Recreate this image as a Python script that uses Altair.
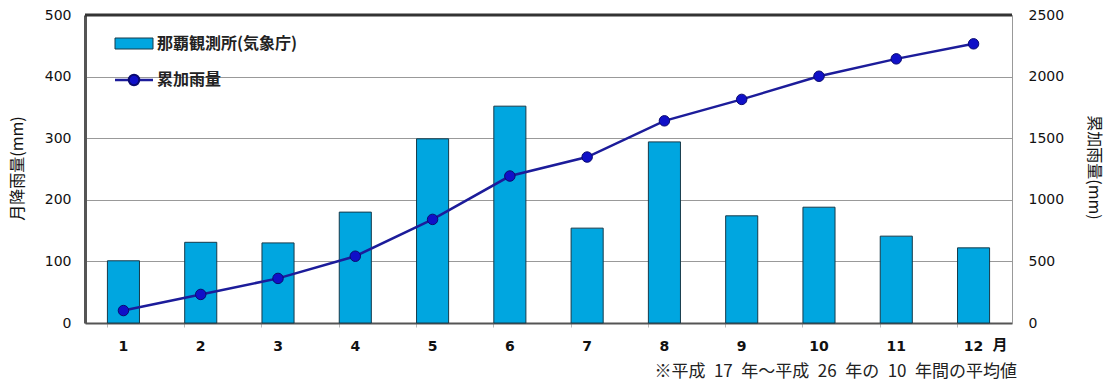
import altair as alt
import pandas as pd

months = [1, 2, 3, 4, 5, 6, 7, 8, 9, 10, 11, 12]
monthly_rain = [101, 131, 130, 180, 299, 352, 154, 294, 174, 188, 141, 122]
cumulative_rain = [101, 232, 362, 542, 841, 1193, 1347, 1641, 1815, 2003, 2144, 2266]
left_ticks = [0, 100, 200, 300, 400, 500]
right_ticks = [0, 500, 1000, 1500, 2000, 2500]
bar_label = "那覇観測所(気象庁)"
line_label = "累加雨量"
left_title = "月降雨量(mm)"
right_title = "累加雨量(mm)"
unit_label = "月"
footnote = "※平成\u200217\u2002年～平成\u200226\u2002年の\u200210\u2002年間の平均値"

df = pd.DataFrame({"month": months, "rain": monthly_rain, "cum": cumulative_rain})

FONT = "Noto Sans CJK JP"
NUMF = "DejaVu Sans"

xenc = alt.X("month:O", title=None,
             scale=alt.Scale(paddingInner=0.585, paddingOuter=0.29),
             axis=alt.Axis(labelAngle=0, labelFont=NUMF, labelFontSize=14, labelColor="#111",
                           labelFontWeight="bold", labelPadding=12, domainColor="#555",
                           domainWidth=2, tickColor="#bbb", tickSize=4, bandPosition=0,
                           grid=False))

left_scale = alt.Scale(domain=[0, 500], nice=False)
right_scale = alt.Scale(domain=[0, 2500], nice=False)

bars = alt.Chart(df).mark_bar(color="#00A6E0", stroke="#163a4a", strokeWidth=1).encode(
    x=xenc,
    y=alt.Y("rain:Q", scale=left_scale,
            axis=alt.Axis(values=left_ticks, format="d", title=left_title, titleFont=FONT,
                          titleFontSize=16, titleFontWeight="normal", titleColor="#111",
                          titleAngle=-90, titleX=-68, titleY=153, titleAlign="center",
                          titleBaseline="middle", labelFont=NUMF, labelFontSize=14,
                          labelColor="#111", labelPadding=14, ticks=False, domainColor="#555",
                          domainWidth=3, gridColor="#999", gridWidth=1)),
)

line = alt.Chart(df).mark_line(color="#1c1c9a", strokeWidth=2.5, point=alt.OverlayMarkDef(
    filled=True, color="#1010c8", size=110, opacity=1, stroke="#0a0a70", strokeWidth=1)).encode(
    x=xenc,
    y=alt.Y("cum:Q", scale=right_scale,
            axis=alt.Axis(values=right_ticks, format="d", orient="right", title=right_title,
                          titleFont=FONT, titleFontSize=16, titleFontWeight="normal",
                          titleColor="#111", titleAngle=90, titleX=81, titleY=152,
                          titleAlign="center", titleBaseline="middle", labelFont=NUMF,
                          labelFontSize=14, labelColor="#111", labelPadding=16, ticks=False,
                          grid=False, domainColor="#999", domainWidth=1)),
)

# top frame line, legend, unit and footnote (drawn in pixel space of the plot)
top_rule = alt.Chart(pd.DataFrame({"a": [0]})).mark_rule(color="#333", strokeWidth=3).encode(
    x=alt.value(0), x2=alt.value(927), y=alt.value(0))
leg_rect = alt.Chart(pd.DataFrame({"a": [0]})).mark_rect(color="#00A6E0", stroke="#163a4a",
                                                         strokeWidth=1).encode(
    x=alt.value(30), x2=alt.value(68), y=alt.value(23), y2=alt.value(34))
leg_line = alt.Chart(pd.DataFrame({"a": [0]})).mark_rule(color="#1c1c9a", strokeWidth=2.5).encode(
    x=alt.value(30), x2=alt.value(68), y=alt.value(65))
leg_pt = alt.Chart(pd.DataFrame({"a": [0]})).mark_point(filled=True, color="#1010c8", size=110,
                                                        opacity=1, stroke="#0a0a70").encode(
    x=alt.value(49), y=alt.value(65))
leg_t1 = alt.Chart(pd.DataFrame({"t": [bar_label]})).mark_text(
    font=FONT, fontSize=16, fontWeight="bold", color="#222", align="left", baseline="middle").encode(
    text="t:N", x=alt.value(72), y=alt.value(29))
leg_t2 = alt.Chart(pd.DataFrame({"t": [line_label]})).mark_text(
    font=FONT, fontSize=16, fontWeight="bold", color="#222", align="left", baseline="middle").encode(
    text="t:N", x=alt.value(72), y=alt.value(65))
unit = alt.Chart(pd.DataFrame({"t": [unit_label]})).mark_text(
    font=FONT, fontSize=15, fontWeight="bold", color="#111", align="center",
    baseline="middle").encode(text="t:N", x=alt.value(915), y=alt.value(330))
note = alt.Chart(pd.DataFrame({"t": [footnote]})).mark_text(
    font=FONT, fontSize=17, color="#222", align="right", baseline="middle").encode(
    text="t:N", x=alt.value(932), y=alt.value(357))

chart = alt.layer(bars, line, top_rule, leg_rect, leg_line, leg_pt, leg_t1, leg_t2, unit, note
                  ).resolve_scale(y="independent").properties(
    width=927, height=308,
    padding={"left": 85, "top": 15, "right": 98, "bottom": 62},
    autosize="none",
).configure_view(stroke="#999", strokeWidth=1).configure(background="white")

chart.save("out.html", embed_options={"renderer": "svg", "actions": False})
